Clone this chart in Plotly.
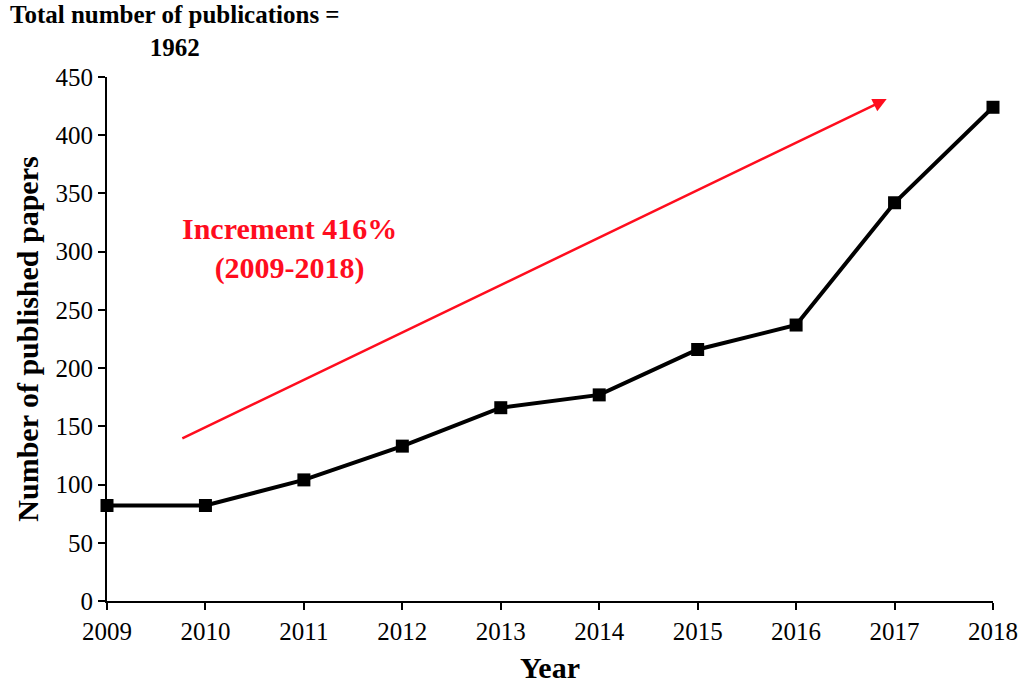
import plotly.graph_objects as go

years = [2009, 2010, 2011, 2012, 2013, 2014, 2015, 2016, 2017, 2018]
papers = [82, 82, 104, 133, 166, 177, 216, 237, 342, 424]
arrow_start = (2009.75, 139)
arrow_end = (2016.92, 431)

FONT = "Liberation Serif, Times New Roman, serif"

fig = go.Figure()
fig.add_trace(go.Scatter(
    x=years, y=papers, mode="lines+markers",
    line=dict(color="black", width=4),
    marker=dict(symbol="square", size=13, color="black"),
    cliponaxis=False, showlegend=False,
))

fig.add_annotation(
    x=arrow_end[0], y=arrow_end[1], ax=arrow_start[0], ay=arrow_start[1],
    xref="x", yref="y", axref="x", ayref="y",
    showarrow=True, arrowhead=2, arrowsize=1.1, arrowwidth=2.5, arrowcolor="#ff0d1e", text="",
)
fig.add_annotation(
    x=2010.85, y=303, xref="x", yref="y", showarrow=False,
    text="<b>Increment 416%<br>(2009-2018)</b>",
    font=dict(family=FONT, size=30, color="#ff0d1e"), align="center",
)
fig.add_annotation(
    x=(175 - 107) / 890, y=1.0, xref="x domain", yref="paper",
    xanchor="center", yanchor="bottom", yshift=14,
    showarrow=False,
    text="<b>Total number of publications =<br>1962</b>",
    font=dict(family=FONT, size=25, color="black"), align="center",
)

fig.update_xaxes(
    range=[2009, 2018], tickvals=years, ticktext=[str(y) for y in years],
    showline=True, linecolor="black", linewidth=2, ticks="outside", ticklen=7,
    tickcolor="black", tickwidth=2, showgrid=False, zeroline=False,
    tickfont=dict(family=FONT, size=25, color="black"),
    title=dict(text="<b>Year</b>", font=dict(family=FONT, size=30, color="black"), standoff=13),
)
fig.update_yaxes(
    range=[0, 450], dtick=50,
    showline=True, linecolor="black", linewidth=2, ticks="outside", ticklen=7,
    tickcolor="black", tickwidth=2, showgrid=False, zeroline=False,
    tickfont=dict(family=FONT, size=25, color="black"),
    title=dict(text="<b>Number of published papers</b>", font=dict(family=FONT, size=30, color="black"), standoff=8),
)
fig.update_layout(
    width=1030, height=691,
    margin=dict(l=107, r=33, t=77, b=84),
    plot_bgcolor="white", paper_bgcolor="white",
)
fig.write_html(
    "out.html",
    config={"displayModeBar": False},
    post_script="document.body.style.margin='0';document.body.style.overflow='hidden';",
)
